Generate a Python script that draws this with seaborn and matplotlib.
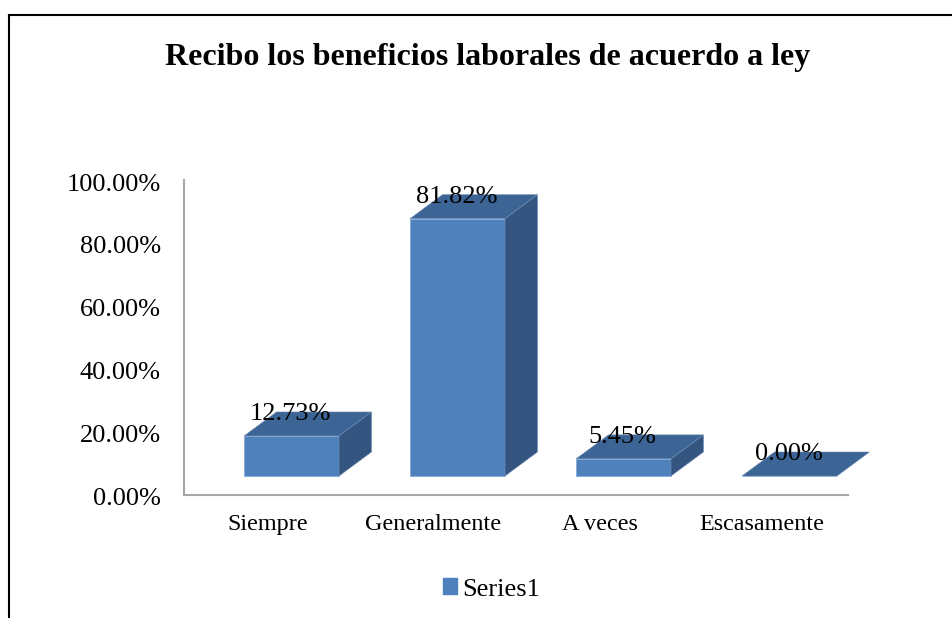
import matplotlib
matplotlib.use('Agg')
import matplotlib.pyplot as plt
from matplotlib.lines import Line2D
from matplotlib.patches import Polygon, Patch
from matplotlib.transforms import ScaledTranslation
import pandas as pd
import seaborn as sns

categories = ['Siempre', 'Generalmente', 'A veces', 'Escasamente']
values = [12.73, 81.82, 5.45, 0.00]
series_name = 'Series1'
y_ticks = [0, 20, 40, 60, 80, 100]
title = 'Recibo los beneficios laborales de acuerdo a ley'

front_color = '#4F81BD'
top_color = '#3C6494'
side_color = '#335580'
axis_color = '#A6A6A6'

W, H = 953, 618
sns.set_theme(style='white')
plt.rcParams['font.family'] = ['Liberation Serif', 'DejaVu Serif']

fig = plt.figure(figsize=(W / 100, H / 100), dpi=100, facecolor='white')
ax = fig.add_axes([184.5 / W, (H - 494.5) / H, 664 / W, 314.5 / H])

df = pd.DataFrame({'cat': categories, 'val': values})
sns.barplot(data=df, x='cat', y='val', color=front_color, saturation=1, width=95 / 166, ax=ax)
ax.set_xlim(-0.5, 3.5)
ax.set_ylim(0, 100)

# fake 3d: bars sit on a floor pushed back from the axis lines
px_x = 1 / 166
px_y = 100 / 314.5
shift_x = 24 * px_x
floor = 18.5 * px_y
depth_x = 32.5 * px_x
depth_y = 24 * px_y

for bar, val in zip(ax.patches, values):
    bar.set_x(bar.get_x() + shift_x)
    bar.set_y(floor)
    bar.set_edgecolor('#7FA6D6')
    bar.set_linewidth(0.5)
    bar.set_zorder(3)
    bar.set_clip_on(False)
    x0, x1 = bar.get_x(), bar.get_x() + bar.get_width()
    y0, y1 = floor, floor + val
    ax.add_patch(Polygon([(x0, y1), (x1, y1), (x1 + depth_x, y1 + depth_y), (x0 + depth_x, y1 + depth_y)],
                         fc=top_color, ec='#6F8FB8', lw=0.4, zorder=3, clip_on=False))
    if val > 0:
        ax.add_patch(Polygon([(x1, y0), (x1 + depth_x, y0 + depth_y), (x1 + depth_x, y1 + depth_y), (x1, y1)],
                             fc=side_color, ec='#6F8FB8', lw=0.4, zorder=3, clip_on=False))
    ax.annotate(f'{val:.2f}%', ((x0 + x1) / 2 - 1 * px_x, y1), xytext=(0, 22 * 0.72), textcoords='offset points',
                ha='center', va='center', fontsize=19, color='black', zorder=5)

sns.despine(ax=ax)
for s in ['left', 'bottom']:
    ax.spines[s].set_color(axis_color)
    ax.spines[s].set_linewidth(1.5)
ax.set_xlabel('')
ax.set_ylabel('')
ax.set_yticks(y_ticks)
ax.set_yticklabels([f'{t:.2f}%' for t in y_ticks], fontsize=19, color='black')
ax.set_xticks(range(len(categories)))
ax.set_xticklabels(categories, fontsize=17.4, color='black')
ax.tick_params(axis='y', length=0, pad=17)
ax.tick_params(axis='x', length=0, pad=14)

# nudge labels a little, the reference does not sit exactly on the ticks
for lab in ax.get_yticklabels():
    lab.set_transform(lab.get_transform() + ScaledTranslation(0, -1.5 / 72, fig.dpi_scale_trans))
last = ax.get_xticklabels()[-1]
last.set_transform(last.get_transform() + ScaledTranslation(-4 / 100, 0, fig.dpi_scale_trans))

fig.text(487.5 / W, 1 - 58 / H, title, ha='center', va='center', fontsize=23, fontweight='bold', color='black')

handle = Patch(color=front_color, label=series_name)
fig.legend(handles=[handle], loc='center', bbox_to_anchor=(491.5 / W, 1 - 589.5 / H), frameon=False, fontsize=19,
           handlelength=0.52, handleheight=0.52, handletextpad=0.22, labelcolor='black')

# chart border, only top and left reach the crop
fig.add_artist(Line2D([9.5 / W, 9.5 / W], [0, 1 - 14.5 / H], color='black', lw=1.5, solid_capstyle='projecting'))
fig.add_artist(Line2D([9.5 / W, 1], [1 - 14.5 / H, 1 - 14.5 / H], color='black', lw=1.5, solid_capstyle='projecting'))

plt.savefig('out.png', dpi=100)
plt.close()
